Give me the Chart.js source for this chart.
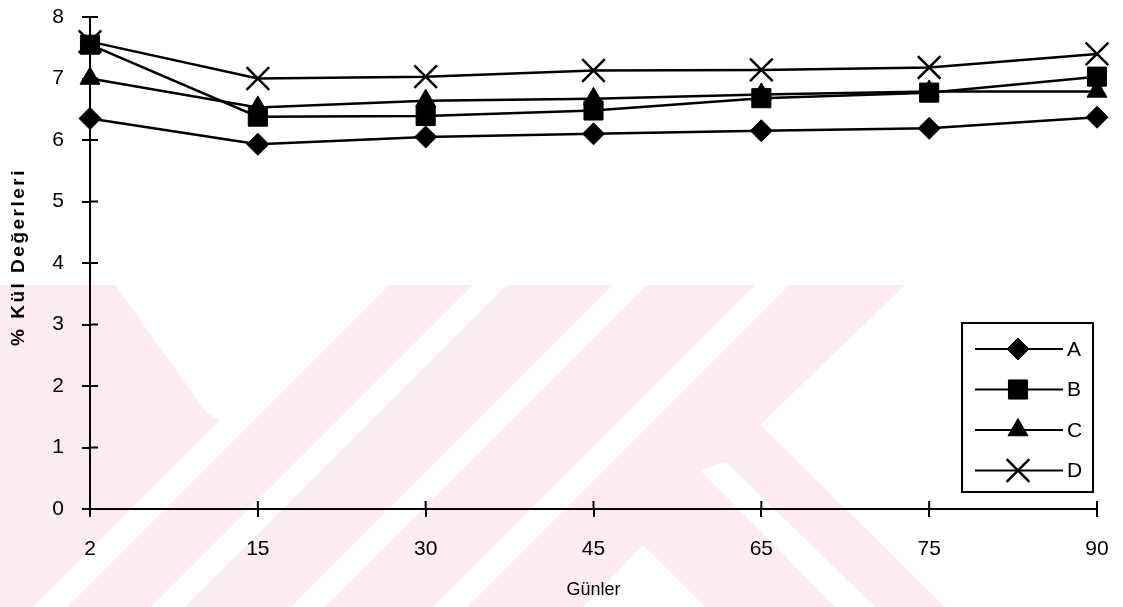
<!DOCTYPE html>
<html>
<head>
<meta charset="utf-8">
<script src="https://cdn.jsdelivr.net/npm/chart.js@4.4.1/dist/chart.umd.min.js"></script>
<style>
  html, body { margin: 0; padding: 0; background: #fff; }
  #wrap { width: 1123px; height: 607px; }
</style>
</head>
<body>
<div id="wrap"><canvas id="c" width="1123" height="607"></canvas></div>
<script>
// Storage days and ash values (%) for the four samples
const days = ['2', '15', '30', '45', '65', '75', '90'];
const seriesA = [6.35, 5.93, 6.05, 6.10, 6.15, 6.19, 6.37];
const seriesB = [7.55, 6.38, 6.39, 6.48, 6.68, 6.77, 7.03];
const seriesC = [7.00, 6.53, 6.64, 6.67, 6.74, 6.79, 6.79];
const seriesD = [7.60, 7.00, 7.03, 7.13, 7.14, 7.18, 7.40];
const seriesNames = ['A', 'B', 'C', 'D'];
const yMin = 0, yMax = 8, yStep = 1;
const xTitle = 'Günler';
const yTitle = '% Kül Değerleri';

const FONT = "'Liberation Sans', Arial, sans-serif";

// Faint pink background emblem
const emblem = {
  id: 'emblem',
  beforeDraw(chart) {
    const ctx = chart.ctx;
    const poly = (pts, color) => {
      ctx.beginPath();
      ctx.moveTo(pts[0][0], pts[0][1]);
      for (let i = 1; i < pts.length; i++) ctx.lineTo(pts[i][0], pts[i][1]);
      ctx.closePath();
      ctx.fillStyle = color;
      ctx.fill();
    };
    ctx.save();
    ctx.fillStyle = '#fff';
    ctx.fillRect(0, 0, chart.width, chart.height);
    const pink = '#fdecef';
    poly([[0, 285], [905, 285], [760, 425], [945, 607], [0, 607]], pink);
    const white = '#fff';
    poly([[115, 285], [386, 285], [290, 372], [234, 430], [206, 412]], white);
    // diagonal light bands
    [657, 775, 915, 1057].forEach(c => {
      const h = 17;
      poly([[c - h - 285, 285], [c + h - 285, 285], [c + h - 607, 607], [c - h - 607, 607]], white);
    });
    poly([[643, 545], [583, 607], [705, 607]], white);
    poly([[700, 470], [726, 462], [875, 607], [835, 607]], white);
    ctx.restore();
  }
};

// Tick marks crossing the axes (inner half) and the rotated y title
const axisExtras = {
  id: 'axisExtras',
  beforeDatasetsDraw(chart) {
    const { ctx, scales: { x, y } } = chart;
    ctx.save();
    ctx.strokeStyle = '#000';
    ctx.lineWidth = 2;
    ctx.beginPath();
    x.ticks.forEach((t, i) => {
      const px = x.getPixelForTick(i);
      ctx.moveTo(px, y.bottom);
      ctx.lineTo(px, y.bottom - 8);
    });
    y.ticks.forEach((t, i) => {
      const py = y.getPixelForTick(i);
      ctx.moveTo(x.left, py);
      ctx.lineTo(x.left + 8, py);
    });
    ctx.stroke();

    ctx.translate(19, (y.top + y.bottom) / 2 - 6);
    ctx.rotate(-Math.PI / 2);
    ctx.fillStyle = '#000';
    ctx.font = 'bold 19px ' + FONT;
    ctx.letterSpacing = '2.5px';
    ctx.textAlign = 'center';
    ctx.textBaseline = 'middle';
    ctx.fillText(yTitle, 0, 0);
    ctx.restore();
  }
};

// Boxed legend: line with marker, then the series name
const boxLegend = {
  id: 'boxLegend',
  afterDraw(chart) {
    const ctx = chart.ctx;
    const box = { l: 962, t: 323, r: 1093, b: 492 };
    ctx.save();
    ctx.strokeStyle = '#000';
    ctx.lineWidth = 2;
    ctx.strokeRect(box.l, box.t, box.r - box.l, box.b - box.t);
    chart.data.datasets.forEach((ds, i) => {
      const yy = 349 + i * 40.5;
      ctx.beginPath();
      ctx.lineWidth = 2;
      ctx.strokeStyle = '#000';
      ctx.moveTo(975, yy);
      ctx.lineTo(1063, yy);
      ctx.stroke();
      ctx.fillStyle = '#000';
      ctx.lineWidth = ds.pointBorderWidth;
      Chart.helpers.drawPoint(ctx, {
        pointStyle: ds.pointStyle,
        radius: ds.pointRadius,
        rotation: 0,
        borderWidth: ds.pointBorderWidth
      }, 1018, yy);
      ctx.fillStyle = '#000';
      ctx.font = '21px ' + FONT;
      ctx.textAlign = 'left';
      ctx.textBaseline = 'middle';
      ctx.fillText(ds.label, 1067, yy + 1);
    });
    ctx.restore();
  }
};

const markerStyles = ['rectRot', 'rect', 'triangle', 'crossRot'];
const markerSizes = [11, 13.5, 11.5, 16];
const seriesValues = [seriesA, seriesB, seriesC, seriesD];

const datasets = seriesNames.map((name, i) => ({
  label: name,
  data: seriesValues[i],
  borderColor: '#000',
  backgroundColor: '#000',
  borderWidth: 2.5,
  pointStyle: markerStyles[i],
  pointRadius: markerSizes[i],
  pointHoverRadius: markerSizes[i],
  pointBackgroundColor: '#000',
  pointBorderColor: '#000',
  pointBorderWidth: i === 3 ? 2.5 : 1,
  tension: 0,
  fill: false
}));

new Chart(document.getElementById('c'), {
  type: 'line',
  data: { labels: days, datasets },
  plugins: [emblem, axisExtras, boxLegend],
  options: {
    responsive: false,
    animation: false,
    devicePixelRatio: 1,
    layout: { autoPadding: false, padding: { top: 17, right: 26, left: 0, bottom: 0 } },
    plugins: { legend: { display: false }, tooltip: { enabled: false } },
    scales: {
      x: {
        type: 'category',
        offset: false,
        grid: { display: true, drawOnChartArea: false, drawTicks: true, tickLength: 8, color: '#000', lineWidth: 2 },
        border: { display: true, color: '#000', width: 2 },
        ticks: { color: '#000', font: { family: FONT, size: 21 }, padding: 20, maxRotation: 0, autoSkip: false },
        title: { display: true, text: xTitle, color: '#000', font: { family: FONT, size: 18 }, padding: { top: 0, bottom: 6 } },
        afterFit(s) {
          s.height = 98;
          s.paddingLeft = 0;
          s.paddingRight = 0;
        }
      },
      y: {
        min: yMin,
        max: yMax,
        grid: { display: true, drawOnChartArea: false, drawTicks: true, tickLength: 8, color: '#000', lineWidth: 2 },
        border: { display: true, color: '#000', width: 2 },
        ticks: { stepSize: yStep, color: '#000', font: { family: FONT, size: 21 }, padding: 18 },
        afterFit(s) {
          s.width = 90;
          s.paddingTop = 0;
          s.paddingBottom = 0;
        }
      }
    }
  }
});
</script>
</body>
</html>
